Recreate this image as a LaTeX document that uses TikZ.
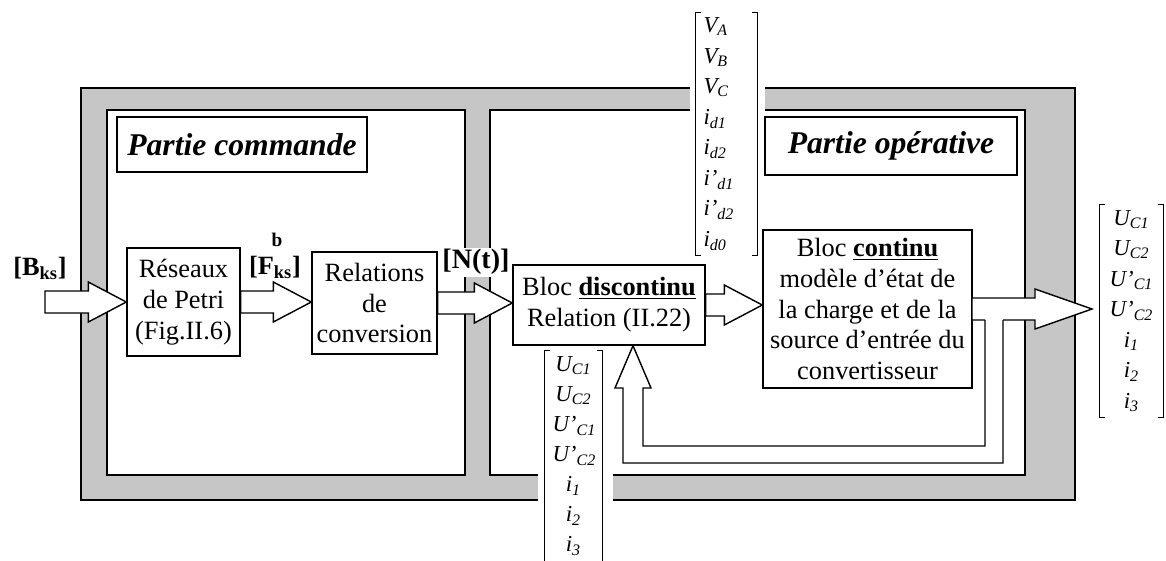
\documentclass[tikz,border=0pt]{standalone}
\usepackage{fontspec}
\setmainfont{Liberation Serif}
\usetikzlibrary{calc}

\tikzset{
  boite/.style={draw, line width=0.8pt, fill=white, align=center, inner sep=1pt,
    font=\fontsize{15}{17.6}\selectfont},
  titre/.style={draw, line width=0.8pt, fill=white, inner sep=2pt,
    font=\fontsize{18}{21}\selectfont\bfseries\itshape},
  etiq/.style={inner sep=1pt, font=\fontsize{15}{17}\selectfont\bfseries},
  vecteur/.style={inner ysep=0pt, inner xsep=1.5mm, font=\fontsize{13}{17.4}\selectfont\itshape},
  blk/.style={draw, line width=0.8pt, fill=white, line join=miter},
}

% grosse fleche creuse de #1 vers #2
\newcommand{\blocarrow}[2]{%
  \draw[blk] ($(#1)+(0,-11)$) -- ($(#1 -| #2)+(-38,-11)$) -- ($(#1 -| #2)+(-38,-20)$)
    -- (#1 -| #2) -- ($(#1 -| #2)+(-38,20)$) -- ($(#1 -| #2)+(-38,11)$)
    -- ($(#1)+(0,11)$) -- cycle;}
% crochets autour d'un vecteur
\newcommand{\crochets}[1]{%
  \draw[thin] ($(#1.north west)+(5,0)$) -- (#1.north west) -- (#1.south west) -- ($(#1.south west)+(5,0)$);
  \draw[thin] ($(#1.north east)+(-5,0)$) -- (#1.north east) -- (#1.south east) -- ($(#1.south east)+(-5,0)$);}
\newcommand{\ent}[2]{#1\textsubscript{#2}}

\begin{document}
\begin{tikzpicture}[x=0.2mm, y=-0.2mm]
    \useasboundingbox (0,0) rectangle (1166,560);
    % cadre
    \draw[line width=0.8pt, fill=gray!45] (81,88) rectangle (1075,500);
    \draw[line width=0.8pt, fill=white] (107,110) rectangle (465,475);
    \draw[line width=0.8pt, fill=white] (490,110) rectangle (1025,475);
    \fill[white] (690,85) rectangle (765,113);
    \fill[white] (538,472) rectangle (613,503);
    % titres
    \node[titre, minimum width=50mm, minimum height=11mm] (cmd) at (242,144.5) {Partie commande};
    \node[titre, minimum width=50.4mm, minimum height=11.6mm] (ope) at (891,146) {Partie opérative};
    % blocs
    \node[boite, minimum width=22.6mm, minimum height=21.6mm] (reseaux) at (183.5,302) {Réseaux\\de Petri\\(Fig.II.6)};
    \node[boite, minimum width=25mm, minimum height=20.4mm] (relations) at (374.5,303) {Relations\\de\\conversion};
    \node[boite, minimum width=38.4mm, minimum height=16mm] (discontinu) at (609,305)
        {Bloc \underline{\textbf{discontinu}}\\Relation (II.22)};
    \node[boite, minimum width=41.8mm, minimum height=31.6mm] (continu) at (867.5,309)
        {Bloc \underline{\textbf{continu}}\\modèle d'état de\\la charge et de la\\source d'entrée du\\convertisseur};
    % fleches
    \coordinate (entree) at (45,302);
    \blocarrow{entree}{reseaux.west}
    \blocarrow{reseaux.east}{relations.west}
    \blocarrow{relations.east}{discontinu.west}
    \blocarrow{discontinu.east}{continu.west}
    \coordinate (sortie) at (1092,309);
    \draw[blk] (1003,320) -- (1035,320) -- (1035,329) -- (sortie) -- (1035,289) -- (1035,298)
        -- (972,298) -- (972,320) -- (985,320);
    % retour
    \coordinate (fbtip) at ($(discontinu.south)+(24,0)$);
    \draw[blk] (985,320) -- (985,446) -- (643,446) -- (643,388) -- (651,388) -- (fbtip)
        -- (615,388) -- (623,388) -- (623,463) -- (1003,463) -- (1003,320);
    % etiquettes
    \node[etiq] (bks) at (40,268) {[B\textsubscript{ks}]};
    \node[etiq, font=\fontsize{11}{12}\selectfont\bfseries] (b) at (277,240) {b};
    \node[etiq] (fks) at (275,267) {[F\textsubscript{ks}]};
    \node[etiq, fill=white, font=\fontsize{16}{18}\selectfont\bfseries] (nt) at (476,262) {[N(t)]};
    % vecteurs
    \node[vecteur, align=left, text width=9.2mm, minimum height=48.4mm] (vmat) at (726.5,134)
        {\ent{V}{A}\\\ent{V}{B}\\\ent{V}{C}\\\ent{i}{d1}\\\ent{i}{d2}\\\ent{i'}{d1}\\\ent{i'}{d2}\\\ent{i}{d0}};
    \crochets{vmat}
    \node[vecteur, align=center, text width=8.4mm, minimum height=42mm,
        font=\fontsize{13}{17.1}\selectfont\itshape] (umat) at (573.5,456)
        {\ent{U}{C1}\\\ent{U}{C2}\\\ent{U'}{C1}\\\ent{U'}{C2}\\\ent{i}{1}\\\ent{i}{2}\\\ent{i}{3}};
    \crochets{umat}
    \node[vecteur, align=center, text width=9.6mm, minimum height=42.4mm] (ymat) at (1131.5,311)
        {\ent{U}{C1}\\\ent{U}{C2}\\\ent{U'}{C1}\\\ent{U'}{C2}\\\ent{i}{1}\\\ent{i}{2}\\\ent{i}{3}};
    \crochets{ymat}
\end{tikzpicture}
\end{document}
